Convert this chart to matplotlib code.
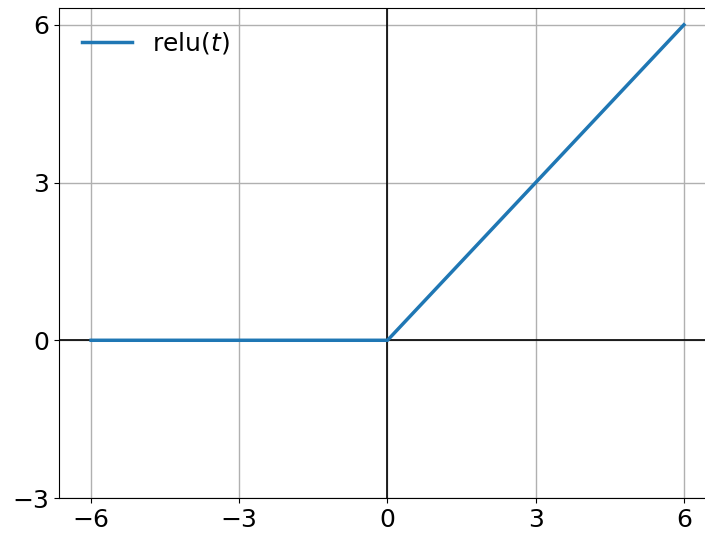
import numpy as np
import matplotlib
matplotlib.use("Agg")
import matplotlib.pyplot as plt

t = [-6, 0, 6]
relu = [0, 0, 6]
xticks = [-6, -3, 0, 3, 6]
yticks = [-3, 0, 3, 6]

fig = plt.figure(figsize=(7.05, 5.33), dpi=100)
ax = fig.add_axes([59/705, 35/533, 657/705, 490/533])
ax.plot(t, relu, color="#1f77b4", lw=2.5, label=r"relu$(t)$", zorder=3)
ax.axhline(0, color="black", lw=1.2, zorder=2)
ax.axvline(0, color="black", lw=1.2, zorder=2)
ax.set_xlim(-6.65, 6.65)
ax.set_ylim(-3, 6.32)
ax.set_xticks(xticks)
ax.set_yticks(yticks)
ax.tick_params(labelsize=18)
ax.grid(True, color="#b0b0b0", lw=1.0)
ax.legend(loc="upper left", frameon=False, fontsize=18)
fig.savefig("out.png", dpi=100)
